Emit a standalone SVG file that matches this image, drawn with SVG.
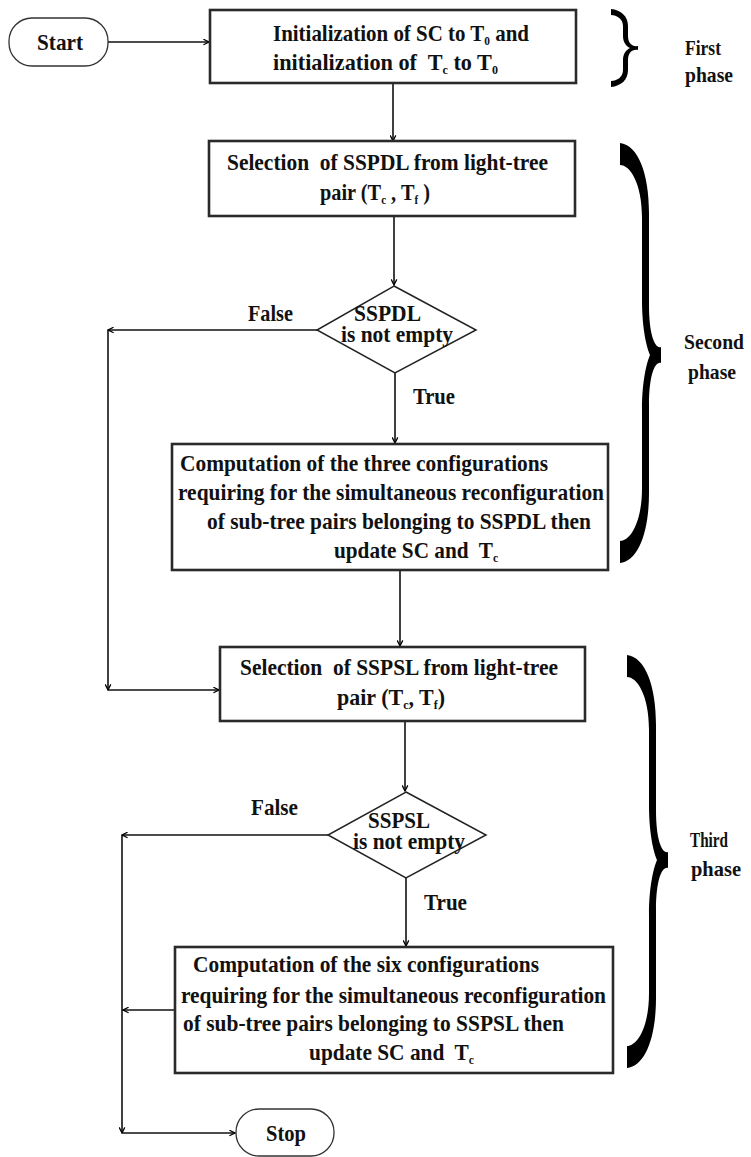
<svg xmlns="http://www.w3.org/2000/svg" width="751" height="1157" viewBox="0 0 751 1157">
<style>
.t{font-family:'Liberation Serif','DejaVu Serif',serif;font-weight:bold;font-size:24px;fill:#111;white-space:pre}
.p{font-size:21px}
.s{font-size:13px}
.box{fill:#fff;stroke:#2a2a2a;stroke-width:2.6}
.term{fill:#fff;stroke:#333;stroke-width:1.3}
.dia{fill:#fff;stroke:#222;stroke-width:1.5}
.c{fill:none;stroke:#111;stroke-width:1.6}
.br{fill:#000}
</style>
<defs>
<marker id="ah" viewBox="0 0 10 10" refX="9" refY="5" markerWidth="7" markerHeight="7" orient="auto" markerUnits="userSpaceOnUse">
<path d="M1,1 L9,5 L1,9" fill="none" stroke="#000" stroke-width="1.8"/>
</marker>
</defs>
<rect width="751" height="1157" fill="#fff"/>

<g id="connectors">
<path class="c" d="M108,42 L209,42" marker-end="url(#ah)"/>
<path class="c" d="M393,83 L393,141" marker-end="url(#ah)"/>
<path class="c" d="M394,216 L394,285" marker-end="url(#ah)"/>
<path class="c" d="M317,330 L108,330" marker-end="url(#ah)"/>
<path class="c" d="M108,330 L108,690" marker-end="url(#ah)"/>
<path class="c" d="M108,690 L219,690" marker-end="url(#ah)"/>
<path class="c" d="M395,373 L395,443" marker-end="url(#ah)"/>
<path class="c" d="M400,570 L400,646" marker-end="url(#ah)"/>
<path class="c" d="M405,721 L405,791" marker-end="url(#ah)"/>
<path class="c" d="M328,835 L122,835" marker-end="url(#ah)"/>
<path class="c" d="M122,835 L122,1133" marker-end="url(#ah)"/>
<path class="c" d="M122,1133 L235,1133" marker-end="url(#ah)"/>
<path class="c" d="M406,878 L406,946" marker-end="url(#ah)"/>
<path class="c" d="M175,1010 L123,1010" marker-end="url(#ah)"/>
</g>

<g id="start">
<rect class="term" x="9" y="18" width="99" height="48" rx="23"/>
<text class="t" x="60" y="50" text-anchor="middle" textLength="46" lengthAdjust="spacingAndGlyphs">Start</text>
</g>

<g id="init">
<rect class="box" x="210" y="10" width="366" height="73"/>
<text class="t" x="273" y="41" textLength="256" lengthAdjust="spacingAndGlyphs">Initialization of SC to T<tspan class="s" dy="4">0</tspan><tspan dy="-4"> and</tspan></text>
<text class="t" x="273" y="70" textLength="225" lengthAdjust="spacingAndGlyphs">initialization of  T<tspan class="s" dy="4">c</tspan><tspan dy="-4"> to T</tspan><tspan class="s" dy="4">0</tspan></text>
</g>

<g id="sel-sspdl">
<rect class="box" x="209" y="141" width="366" height="75"/>
<text class="t" x="227" y="170" textLength="321" lengthAdjust="spacingAndGlyphs">Selection  of SSPDL from light-tree</text>
<text class="t" x="320" y="200" textLength="110" lengthAdjust="spacingAndGlyphs">pair (T<tspan class="s" dy="4">c</tspan><tspan dy="-4"> , T</tspan><tspan class="s" dy="4">f</tspan><tspan dy="-4"> )</tspan></text>
</g>

<g id="dec-sspdl">
<path class="dia" d="M394,286 L476,330 L395,373 L317,330 Z"/>
<text class="t" x="354" y="321" textLength="67" lengthAdjust="spacingAndGlyphs">SSPDL</text>
<text class="t" x="341" y="342" textLength="112" lengthAdjust="spacingAndGlyphs">is not empty</text>
<text class="t" x="248" y="321" textLength="45" lengthAdjust="spacingAndGlyphs">False</text>
<text class="t" x="413" y="404" textLength="42" lengthAdjust="spacingAndGlyphs">True</text>
</g>

<g id="comp-three">
<rect class="box" x="172" y="444" width="436" height="126"/>
<text class="t" x="180" y="471" textLength="368" lengthAdjust="spacingAndGlyphs">Computation of the three configurations</text>
<text class="t" x="178" y="500" textLength="426" lengthAdjust="spacingAndGlyphs">requiring for the simultaneous reconfiguration</text>
<text class="t" x="207" y="529" textLength="384" lengthAdjust="spacingAndGlyphs">of sub-tree pairs belonging to SSPDL then</text>
<text class="t" x="334" y="558" textLength="164" lengthAdjust="spacingAndGlyphs">update SC and  T<tspan class="s" dy="4">c</tspan></text>
</g>

<g id="sel-sspsl">
<rect class="box" x="220" y="647" width="365" height="74"/>
<text class="t" x="240" y="675" textLength="318" lengthAdjust="spacingAndGlyphs">Selection  of SSPSL from light-tree</text>
<text class="t" x="337" y="705" textLength="108" lengthAdjust="spacingAndGlyphs">pair (T<tspan class="s" dy="4">c</tspan><tspan dy="-4">, T</tspan><tspan class="s" dy="4">f</tspan><tspan dy="-4">)</tspan></text>
</g>

<g id="dec-sspsl">
<path class="dia" d="M406,792 L486,835 L406,878 L328,835 Z"/>
<text class="t" x="368" y="828" textLength="62" lengthAdjust="spacingAndGlyphs">SSPSL</text>
<text class="t" x="353" y="849" textLength="112" lengthAdjust="spacingAndGlyphs">is not empty</text>
<text class="t" x="251" y="815" textLength="47" lengthAdjust="spacingAndGlyphs">False</text>
<text class="t" x="424" y="910" textLength="43" lengthAdjust="spacingAndGlyphs">True</text>
</g>

<g id="comp-six">
<rect class="box" x="175" y="947" width="438" height="126"/>
<text class="t" x="193" y="972" textLength="346" lengthAdjust="spacingAndGlyphs">Computation of the six configurations</text>
<text class="t" x="181" y="1003" textLength="425" lengthAdjust="spacingAndGlyphs">requiring for the simultaneous reconfiguration</text>
<text class="t" x="183" y="1031" textLength="381" lengthAdjust="spacingAndGlyphs">of sub-tree pairs belonging to SSPSL then</text>
<text class="t" x="309" y="1060" textLength="165" lengthAdjust="spacingAndGlyphs">update SC and  T<tspan class="s" dy="4">c</tspan></text>
</g>

<g id="stop">
<rect class="term" x="236" y="1109" width="98" height="47" rx="23"/>
<text class="t" x="286" y="1141" text-anchor="middle" textLength="40" lengthAdjust="spacingAndGlyphs">Stop</text>
</g>

<g id="phase1">
<path class="br" d="M611,9 C621,10 628,16 628,26 L628,36 C628,43 632,47 638,46 L638,50 C632,49 628,53 628,60 L628,70 C628,80 621,86 611,87 L611,81 C617,81 623,77 623,70 L623,60 C623,54 626,50 630,48 C626,46 623,42 623,36 L623,26 C623,19 617,15 611,15 Z"/>
<text class="t p" x="685" y="55" textLength="36" lengthAdjust="spacingAndGlyphs">First</text>
<text class="t p" x="685" y="82" textLength="48" lengthAdjust="spacingAndGlyphs">phase</text>
</g>

<g id="phase2">
<path class="br" d="M620,143 C638,145 649,173 649,213 L649,305 C649,335 655,349 661,347 L661,363 C655,361 649,375 649,405 L649,493 C649,533 638,561 620,563 L620,541 C630,541 642,523 642,488 L642,410 C642,380 647,362 650,355 C647,348 642,330 642,300 L642,218 C642,183 630,165 620,165 Z"/>
<text class="t p" x="684" y="349" textLength="60" lengthAdjust="spacingAndGlyphs">Second</text>
<text class="t p" x="688" y="379" textLength="48" lengthAdjust="spacingAndGlyphs">phase</text>
</g>

<g id="phase3">
<path class="br" d="M627,655 C645,657 656,685 656,725 L656,810 C656,840 662,854 668,852 L668,868 C662,866 656,880 656,910 L656,998 C656,1038 645,1066 627,1068 L627,1046 C637,1046 649,1028 649,993 L649,915 C649,885 654,867 657,860 C654,853 649,835 649,805 L649,730 C649,695 637,677 627,677 Z"/>
<text class="t p" x="690" y="847" textLength="38" lengthAdjust="spacingAndGlyphs">Third</text>
<text class="t p" x="691" y="876" textLength="50" lengthAdjust="spacingAndGlyphs">phase</text>
</g>
</svg>
